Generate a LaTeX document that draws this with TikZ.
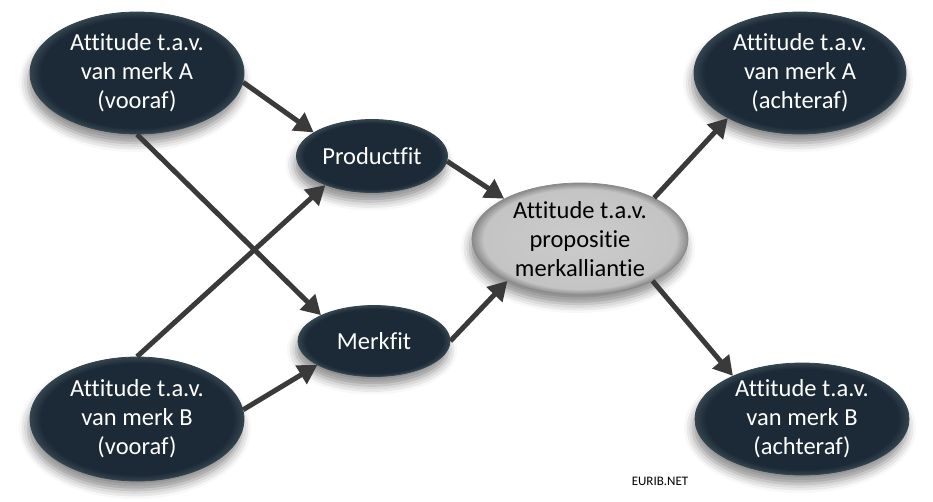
\documentclass[tikz,border=0pt]{standalone}
\usepackage{fontspec}
\setmainfont{Carlito}[Ligatures=NoCommon]
\usetikzlibrary{shapes.geometric,arrows.meta,shadows.blur}
\definecolor{navy}{HTML}{1B2A36}
\definecolor{navyrim}{HTML}{34444F}
\definecolor{arrowgray}{HTML}{3A3A3A}
\definecolor{gin}{HTML}{CBCBCB}
\definecolor{gmid}{HTML}{C4C4C4}
\definecolor{gout}{HTML}{8A8A8A}
\pgfdeclareradialshading{grayball}{\pgfpointorigin}{color(0bp)=(gin); color(22.3bp)=(gmid); color(25bp)=(gout); color(50bp)=(gout)}
\pgfdeclareradialshading{navyball}{\pgfpointorigin}{color(0bp)=(navy); color(22.5bp)=(navy); color(25bp)=(navyrim); color(50bp)=(navyrim)}
\tikzset{
  oval/.style={ellipse, inner sep=0pt, align=center,
    font=\fontsize{24.5}{29}\selectfont,
    blur shadow={shadow xshift=-2pt, shadow yshift=-9pt, shadow blur radius=9pt, shadow opacity=45}},
  darkoval/.style={oval, shading=navyball, draw=navyrim, line width=0.8pt, text=white},
  grayoval/.style={oval, shading=grayball, draw=gout, line width=0.8pt, text=black},
  link/.style={draw=arrowgray, line width=5pt, -{Triangle[length=19pt,width=21pt]}}
}
\begin{document}
\begin{tikzpicture}[x=1pt,y=-1pt]
\useasboundingbox (0,0) rectangle (933,501);
\node[darkoval, minimum width=214pt, minimum height=122pt] (av) at (137,73) {Attitude t.a.v.\\van merk A\\(vooraf)};
\node[darkoval, minimum width=214pt, minimum height=124pt] (bv) at (137,419) {Attitude t.a.v.\\van merk B\\(vooraf)};
\node[darkoval, minimum width=151pt, minimum height=73pt] (pf) at (372,156) {Productfit};
\node[darkoval, minimum width=152pt, minimum height=71pt] (mf) at (374,341) {Merkfit};
\node[grayoval, minimum width=216pt, minimum height=112pt] (c) at (580,239) {Attitude t.a.v.\\propositie\\merkalliantie};
\node[darkoval, minimum width=212pt, minimum height=122pt] (aa) at (800,73) {Attitude t.a.v.\\van merk A\\(achteraf)};
\node[darkoval, minimum width=214pt, minimum height=112pt] (ba) at (802,419) {Attitude t.a.v.\\van merk B\\(achteraf)};
\node[font=\fontsize{13}{15}\selectfont, text=black] (wm) at (660,481) {EURIB.NET};
\draw[link] (av.-5) -- (pf.158);
\draw[link] (av.-90) -- (mf.154);
\draw[link] (bv.90) -- (pf.212);
\draw[link] (bv.5) -- (mf.203);
\draw[link] (pf.-4) -- (c.152);
\draw[link] (mf.0) -- (c.210);
\draw[link] (c.29) -- (aa.212);
\draw[link] (c.-30) -- (ba.148);
\end{tikzpicture}
\end{document}
